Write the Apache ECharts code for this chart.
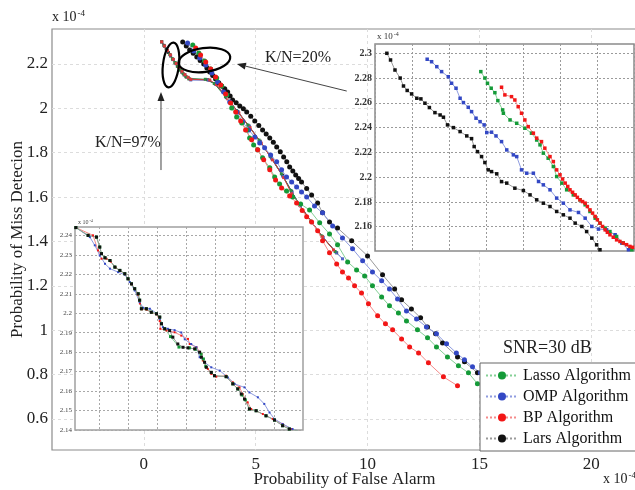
<!DOCTYPE html>
<html><head><meta charset="utf-8">
<script src="https://cdn.jsdelivr.net/npm/echarts@6/dist/echarts.min.js"></script>
<style>html,body{margin:0;padding:0;background:#fff}#c{width:635px;height:490px}</style>
</head><body><div id="c"></div>
<script>
// ---------------- DATA ----------------
const seriesNames = ['Lasso Algorithm', 'OMP Algorithm', 'BP Algorithm', 'Lars Algorithm'];
const mainXTicks = [0, 5, 10, 15, 20];
const mainYTicks = [0.6, 0.8, 1, 1.2, 1.4, 1.6, 1.8, 2, 2.2];
const inset1YTicks = [2.16, 2.18, 2.2, 2.22, 2.24, 2.26, 2.28, 2.3];
const inset2YTicks = [2.14, 2.15, 2.16, 2.17, 2.18, 2.19, 2.2, 2.21, 2.22, 2.23, 2.24];
const inset2XTicks = [1, 2, 3, 4, 5, 6, 7];

// main chart, K/N = 20%  (x in 1e-4, y in 1e-4)
const lasso20 = [[2.19,2.286],[2.46,2.250],[2.72,2.214],[2.99,2.177],[3.26,2.137],[3.48,2.101],[3.71,2.060],[3.93,2.002],[4.15,1.961],[4.38,1.934],[4.60,1.903],[4.73,1.867],[4.91,1.835],[5.09,1.813],[5.31,1.777],[5.63,1.732],[5.85,1.691],[6.07,1.659],[6.38,1.628],[6.65,1.601],[7.01,1.569],[7.41,1.542],[7.86,1.484],[8.30,1.434],[8.66,1.385],[9.11,1.308],[9.51,1.272],[9.87,1.245],[10.22,1.200],[10.63,1.150],[10.98,1.110],[11.38,1.078],[11.74,1.042],[12.23,1.002],[12.68,0.966],[13.08,0.925],[13.57,0.880],[14.06,0.840],[14.51,0.808],[14.91,0.759]];
const omp20 = [[1.96,2.295],[2.23,2.259],[2.50,2.227],[2.77,2.195],[3.04,2.159],[3.30,2.119],[3.57,2.074],[3.84,2.029],[4.15,1.984],[4.42,1.939],[4.69,1.903],[4.96,1.871],[5.18,1.844],[5.40,1.822],[5.67,1.790],[5.94,1.759],[6.16,1.723],[6.38,1.691],[6.61,1.668],[6.83,1.646],[7.05,1.623],[7.28,1.601],[7.63,1.560],[7.99,1.529],[8.44,1.470],[8.88,1.416],[9.33,1.367],[9.78,1.313],[10.22,1.263],[10.63,1.223],[10.98,1.186],[11.34,1.141],[11.74,1.087],[12.19,1.051],[12.63,1.015],[13.08,0.984],[13.53,0.939],[13.97,0.898],[14.33,0.867],[14.69,0.835],[15.04,0.808],[15.45,0.777],[15.89,0.745]];
const bp20 = [[2.32,2.272],[2.54,2.241],[2.77,2.209],[2.99,2.177],[3.21,2.141],[3.44,2.105],[3.66,2.065],[3.88,2.024],[4.11,1.984],[4.33,1.943],[4.55,1.903],[4.82,1.858],[5.09,1.813],[5.36,1.768],[5.63,1.723],[5.89,1.677],[6.16,1.641],[6.52,1.605],[6.83,1.574],[7.08,1.540],[7.28,1.511],[7.50,1.488],[7.77,1.448],[7.99,1.403],[8.30,1.349],[8.62,1.299],[8.88,1.263],[9.15,1.236],[9.42,1.200],[9.73,1.168],[10.04,1.119],[10.45,1.065],[10.80,1.029],[11.12,1.002],[11.52,0.961],[11.88,0.925],[12.28,0.898],[12.72,0.853],[13.39,0.790],[14.02,0.750]];
const lars20 = [[1.74,2.299],[1.90,2.281],[2.05,2.263],[2.21,2.248],[2.37,2.232],[2.52,2.216],[2.68,2.200],[2.82,2.182],[2.95,2.164],[3.08,2.148],[3.21,2.132],[3.35,2.116],[3.48,2.101],[3.62,2.088],[3.75,2.074],[3.86,2.056],[3.97,2.038],[4.13,2.025],[4.29,2.011],[4.45,1.998],[4.60,1.984],[4.78,1.964],[4.96,1.943],[5.14,1.923],[5.31,1.903],[5.47,1.885],[5.63,1.867],[5.79,1.847],[5.94,1.826],[6.10,1.804],[6.25,1.781],[6.39,1.759],[6.52,1.736],[6.66,1.718],[6.79,1.700],[6.92,1.684],[7.05,1.668],[7.28,1.639],[7.50,1.610],[7.77,1.574],[7.99,1.529],[8.30,1.488],[8.66,1.461],[9.29,1.403],[10.00,1.335],[10.67,1.250],[11.21,1.186],[11.52,1.137],[11.96,1.096],[12.37,1.056],[12.68,1.015],[13.04,0.984],[13.35,0.943],[14.02,0.880],[14.33,0.858],[14.91,0.808],[15.54,0.763],[16.12,0.723]];

// main chart, K/N = 97%
const lasso97 = [[0.80,2.300],[0.92,2.281],[1.04,2.262],[1.16,2.243],[1.28,2.224],[1.40,2.206],[1.52,2.189],[1.64,2.172],[1.76,2.157],[1.88,2.144],[2.02,2.134],[2.75,2.131],[3.15,2.112],[3.65,2.052],[4.15,1.990],[4.65,1.925],[5.15,1.857],[5.65,1.783],[6.15,1.705],[6.58,1.630],[6.94,1.568],[7.46,1.492],[7.95,1.425],[8.55,1.355]];
const omp97 = [[0.80,2.300],[0.93,2.280],[1.06,2.260],[1.19,2.240],[1.32,2.220],[1.45,2.201],[1.58,2.183],[1.71,2.166],[1.84,2.151],[1.98,2.139],[2.10,2.128],[2.90,2.127],[3.22,2.108],[3.72,2.047],[4.22,1.983],[4.72,1.918],[5.22,1.848],[5.72,1.773],[6.22,1.693],[6.63,1.622],[7.00,1.560],[7.52,1.485],[8.02,1.418],[8.60,1.350],[8.88,1.322]];
const bp97 = [[0.80,2.300],[0.93,2.281],[1.06,2.261],[1.19,2.241],[1.32,2.221],[1.45,2.202],[1.58,2.184],[1.71,2.167],[1.84,2.152],[1.98,2.140],[2.10,2.131],[2.95,2.128],[3.25,2.107],[3.75,2.043],[4.25,1.979],[4.75,1.913],[5.25,1.843],[5.75,1.768],[6.25,1.688],[6.61,1.615],[6.96,1.565],[7.50,1.488],[7.99,1.421],[8.48,1.362]];
const lars97 = [[0.80,2.300],[0.90,2.284],[1.00,2.268],[1.10,2.252],[1.20,2.236],[1.30,2.220],[1.40,2.205],[1.50,2.190],[1.60,2.176],[1.70,2.163],[1.80,2.151],[1.90,2.141],[2.02,2.133],[2.85,2.129],[3.20,2.110],[3.70,2.049],[4.20,1.986],[4.70,1.921],[5.20,1.852],[5.70,1.778],[6.20,1.699],[6.61,1.625],[6.96,1.565],[7.50,1.488],[7.99,1.421],[8.62,1.349]];

// inset top-right (zoom of K/N = 20%)
const lassoIn20 = [[2.86,2.2852],[2.97,2.280],[3.04,2.2758],[3.14,2.2718],[3.24,2.2682],[3.32,2.2618],[3.45,2.2543],[3.47,2.2516],[3.65,2.2462],[3.83,2.2435],[4.05,2.2395],[4.23,2.2355],[4.37,2.230],[4.46,2.2261],[4.55,2.2194],[4.68,2.2153],[4.82,2.2086],[4.91,2.2005],[5.05,2.1952],[5.18,2.1898],[5.36,2.1857],[5.54,2.1817],[5.68,2.1777],[5.81,2.1723],[5.95,2.1669],[6.08,2.1629],[6.22,2.1589],[6.35,2.1561],[6.53,2.1521],[6.71,2.1468],[6.94,2.1414]];
const ompIn20 = [[1.41,2.2952],[1.53,2.2932],[1.67,2.2892],[1.80,2.2852],[1.98,2.2811],[2.07,2.2758],[2.19,2.2718],[2.30,2.2637],[2.39,2.2602],[2.52,2.2564],[2.61,2.2529],[2.73,2.2476],[2.84,2.2448],[2.95,2.2422],[3.02,2.236],[3.15,2.2363],[3.27,2.2333],[3.42,2.2287],[3.56,2.222],[3.74,2.218],[3.83,2.2166],[3.96,2.2059],[4.10,2.2032],[4.28,2.2032],[4.42,2.1965],[4.55,2.1938],[4.73,2.1898],[4.91,2.1831],[5.09,2.179],[5.27,2.1736],[5.50,2.1715],[5.68,2.1669],[5.86,2.1602],[6.04,2.1581],[6.26,2.1575],[6.49,2.1535],[6.67,2.1468],[6.85,2.1414]];
const bpIn20 = [[3.42,2.2726],[3.51,2.2664],[3.69,2.265],[3.78,2.2623],[3.87,2.2569],[3.96,2.2516],[4.05,2.2462],[4.14,2.2408],[4.28,2.2355],[4.37,2.2315],[4.50,2.2287],[4.59,2.2234],[4.73,2.2166],[4.82,2.2126],[4.91,2.2059],[5.00,2.2019],[5.07,2.1985],[5.14,2.1952],[5.21,2.1925],[5.27,2.1898],[5.34,2.1878],[5.41,2.1857],[5.47,2.1837],[5.54,2.1817],[5.61,2.1803],[5.68,2.179],[5.74,2.1763],[5.81,2.1736],[5.88,2.171],[5.95,2.1683],[6.01,2.1656],[6.08,2.1629],[6.15,2.1602],[6.22,2.1575],[6.28,2.1555],[6.35,2.1535],[6.44,2.1515],[6.53,2.1494],[6.62,2.1481],[6.71,2.1468],[6.80,2.1455],[6.89,2.1441],[6.96,2.1434],[7.03,2.1428]];
const larsIn20 = [[0.32,2.300],[0.42,2.2946],[0.54,2.2865],[0.68,2.280],[0.77,2.2736],[0.87,2.270],[0.99,2.2672],[1.13,2.2637],[1.24,2.2632],[1.35,2.2597],[1.47,2.2562],[1.62,2.2521],[1.76,2.2502],[1.85,2.2484],[1.96,2.2422],[2.12,2.240],[2.30,2.2368],[2.48,2.2333],[2.61,2.2311],[2.68,2.2247],[2.77,2.2206],[2.88,2.2166],[2.97,2.2118],[3.06,2.2059],[3.15,2.2045],[3.29,2.2027],[3.42,2.1964],[3.56,2.1952],[3.78,2.1911],[4.01,2.1892],[4.19,2.1857],[4.37,2.1817],[4.55,2.1790],[4.73,2.1763],[4.91,2.1723],[5.09,2.1696],[5.27,2.1669],[5.41,2.1629],[5.59,2.1602],[5.72,2.1561],[5.86,2.1508],[5.99,2.1454],[6.08,2.1414]];

// inset bottom-left (zoom of K/N = 97%)
const lassoIn97 = [[0.20,2.244],[0.62,2.240],[0.91,2.2391],[1.02,2.234],[1.08,2.2306],[1.20,2.2285],[1.37,2.2271],[1.54,2.2237],[1.71,2.222],[1.88,2.2203],[1.99,2.2177],[2.11,2.2151],[2.22,2.2126],[2.34,2.210],[2.39,2.2067],[2.45,2.2023],[2.62,2.2023],[2.79,2.2005],[2.97,2.1997],[3.08,2.198],[3.14,2.1946],[3.25,2.192],[3.45,2.188],[3.74,2.1826],[4.10,2.1822],[4.30,2.1815],[4.50,2.179],[4.58,2.1765],[4.66,2.1727],[4.85,2.1696],[4.96,2.1679],[5.36,2.1674],[5.59,2.1637],[5.76,2.1611],[5.90,2.1580],[6.02,2.1555],[6.16,2.1508],[6.39,2.1499],[6.73,2.1473],[7.02,2.1451],[7.30,2.1422],[7.53,2.1405],[7.85,2.1396]];
const ompIn97 = [[0.20,2.244],[0.68,2.2391],[0.85,2.2349],[1.02,2.2297],[1.20,2.2254],[1.37,2.2229],[1.65,2.2211],[1.88,2.2198],[2.05,2.216],[2.22,2.2117],[2.39,2.2057],[2.51,2.2028],[2.74,2.2023],[2.97,2.200],[3.08,2.1971],[3.19,2.1928],[3.36,2.192],[3.59,2.1913],[3.82,2.1901],[3.94,2.1866],[4.16,2.1842],[4.34,2.1825],[4.45,2.1774],[4.62,2.1748],[4.85,2.1722],[5.14,2.1705],[5.42,2.167],[5.65,2.1637],[5.99,2.1619],[6.16,2.1593],[6.45,2.1568],[6.67,2.1534],[6.85,2.149],[7.02,2.1457],[7.30,2.1431],[7.64,2.1405],[7.85,2.1396]];
const bpIn97 = [[0.20,2.244],[0.79,2.240],[0.96,2.2323],[1.08,2.228],[1.25,2.228],[1.40,2.2265],[1.56,2.2235],[1.72,2.2218],[1.89,2.2200],[2.00,2.2175],[2.12,2.2148],[2.23,2.2122],[2.33,2.2095],[2.40,2.2050],[2.46,2.2020],[2.63,2.2018],[2.80,2.2002],[2.98,2.1994],[3.08,2.1960],[3.10,2.192],[3.31,2.1911],[3.59,2.1902],[3.82,2.1885],[4.05,2.1868],[4.11,2.1842],[4.34,2.1825],[4.51,2.1791],[4.56,2.1757],[4.73,2.1714],[4.85,2.1688],[5.02,2.1674],[5.36,2.1679],[5.59,2.1645],[5.82,2.1619],[5.93,2.1585],[6.10,2.1542],[6.22,2.1508],[6.62,2.1482],[6.96,2.1457],[7.30,2.1431],[7.59,2.1405],[7.87,2.1396]];
const larsIn97 = [[0.20,2.244],[0.62,2.240],[0.91,2.2391],[1.02,2.234],[1.08,2.2306],[1.20,2.2285],[1.37,2.2271],[1.54,2.2237],[1.71,2.222],[1.88,2.2203],[1.99,2.2177],[2.11,2.2151],[2.22,2.2126],[2.34,2.210],[2.39,2.2067],[2.45,2.2023],[2.62,2.2023],[2.79,2.2005],[2.97,2.1997],[3.08,2.198],[3.14,2.1946],[3.25,2.192],[3.42,2.1911],[3.53,2.1877],[3.70,2.1842],[3.88,2.1825],[4.05,2.1822],[4.28,2.1817],[4.45,2.18],[4.51,2.1774],[4.62,2.1748],[4.68,2.1722],[4.85,2.1696],[4.96,2.1679],[5.36,2.1674],[5.59,2.1637],[5.76,2.1611],[5.88,2.1585],[5.99,2.1559],[6.16,2.1508],[6.39,2.1499],[6.73,2.1473],[7.02,2.1451],[7.30,2.1422],[7.53,2.1405],[7.82,2.1396]];

// annotation anchors (data coordinates of main chart)
const ellipse97Center = [1.215, 2.1955];
const ellipse20Center = [2.71, 2.218];
const arrow97 = [[0.77, 1.722], [0.77, 2.074]];
const arrow20 = [[9.07, 2.078], [4.16, 2.200]];
const label97 = [-0.71, 1.844];
const label20 = [5.42, 2.227];

// ---------------- STYLE ----------------
const FONT = '"Liberation Serif", "Times New Roman", serif';
const dotColors = ['#149a38', '#3348c4', '#f21616', '#111111'];
const lineColors = ['#84d096', '#8f9ce0', '#f58a8a', '#9a9a9a'];
const line97Colors = ['#2f8a45', '#5566c8', '#d83a3a', '#333333'];

const main20 = [lasso20, omp20, bp20, lars20];
const main97 = [lasso97, omp97, bp97, lars97];
const in20 = [lassoIn20, ompIn20, bpIn20, larsIn20];
const in97 = [lassoIn97, ompIn97, bpIn97, larsIn97];

const series = [];
[3, 1, 0, 2].forEach(i => {
  series.push({
    name: seriesNames[i] + ' (K/N=97%)', type: 'line', xAxisIndex: 0, yAxisIndex: 0,
    data: main97[i], symbol: 'rect', symbolSize: 3, z: 2,
    lineStyle: { color: line97Colors[i], width: 1 }, itemStyle: { color: line97Colors[i] },
    emphasis: { disabled: true }
  });
});
[3, 1, 0, 2].forEach(i => {
  series.push({
    name: seriesNames[i], type: 'line', xAxisIndex: 0, yAxisIndex: 0,
    data: main20[i], symbol: 'circle', symbolSize: 5, z: 3,
    lineStyle: { color: lineColors[i], width: 1 }, itemStyle: { color: dotColors[i] },
    emphasis: { disabled: true }
  });
});
[3, 1, 0, 2].forEach(i => {
  series.push({
    name: seriesNames[i] + ' inset20', type: 'line', xAxisIndex: 1, yAxisIndex: 1,
    data: in20[i], symbol: 'rect', symbolSize: 3.5, z: 8,
    lineStyle: { color: lineColors[i], width: 1 }, itemStyle: { color: dotColors[i] },
    emphasis: { disabled: true }
  });
});
[2, 1, 0, 3].forEach(i => {
  series.push({
    name: seriesNames[i] + ' inset97', type: 'line', xAxisIndex: 2, yAxisIndex: 2,
    data: in97[i], symbol: 'rect', symbolSize: (i === 0 || i === 3) ? 3 : 2, z: 8,
    lineStyle: { color: lineColors[i], width: 1 }, itemStyle: { color: dotColors[i] },
    emphasis: { disabled: true }
  });
});

function sup(left, top, size, color) {
  return {
    text: 'x 10{s|-4}', left: left, top: top, padding: 0,
    textStyle: {
      fontFamily: FONT, fontSize: size, fontWeight: 'normal', color: color, verticalAlign: 'bottom',
      rich: { s: { fontFamily: FONT, fontSize: Math.round(size * 0.65), color: color, verticalAlign: 'bottom', padding: [0, 0, Math.round(size * 0.55), 1] } }
    }
  };
}

const option = {
  animation: false,
  backgroundColor: '#fff',
  title: [
    sup(52, 9, 14, '#222'),
    sup(603, 471, 14, '#222'),
    sup(377, 31, 9, '#333'),
    sup(78, 219, 6, '#444'),
    { text: 'SNR=30 dB', left: 503, top: 339, padding: 0, textStyle: { fontFamily: FONT, fontSize: 18, fontWeight: 'normal', color: '#222' } }
  ],
  legend: {
    data: seriesNames, orient: 'vertical', left: 480, top: 363,
    padding: [4, 40, 4, 5], itemGap: 4, itemWidth: 32, itemHeight: 10,
    backgroundColor: '#fff', borderColor: '#666', borderWidth: 1,
    textStyle: { fontFamily: FONT, fontSize: 16, color: '#111', lineHeight: 17 },
    lineStyle: { type: 'dotted', width: 2 }, z: 6
  },
  grid: [
    { left: 52, top: 29, right: -2, bottom: 40, outerBoundsMode: 'none', containLabel: false, show: true, borderColor: '#8c8c8c', borderWidth: 1.2, backgroundColor: 'transparent', z: 0 },
    { left: 375, top: 44, width: 259, height: 207, outerBoundsMode: 'none', containLabel: false, show: true, borderColor: '#8a8a8a', borderWidth: 1.5, backgroundColor: '#fff', z: 5 },
    { left: 75, top: 227, width: 228, height: 203, outerBoundsMode: 'none', containLabel: false, show: true, borderColor: '#a0a0a0', borderWidth: 1.5, backgroundColor: '#fff', z: 5 }
  ],
  xAxis: [
    {
      gridIndex: 0, type: 'value', min: -4.1, max: 22.04,
      name: 'Probability of False Alarm', nameLocation: 'middle', nameGap: 21, nameMoveOverlap: false,
      nameTextStyle: { fontFamily: FONT, fontSize: 17, color: '#222' },
      axisLine: { show: false }, axisTick: { show: false, customValues: mainXTicks },
      axisLabel: { customValues: mainXTicks, fontFamily: FONT, fontSize: 17, color: '#222', margin: 6 },
      splitLine: { show: true, lineStyle: { color: '#dcdcdc', type: [3, 3], width: 1 } }
    },
    {
      gridIndex: 1, type: 'value', min: 0, max: 7, interval: 1, z: 6,
      axisLine: { show: false }, axisTick: { show: false }, axisLabel: { show: false },
      splitLine: { show: true, lineStyle: { color: '#9a9a9a', type: [2, 2], width: 1 } }
    },
    {
      gridIndex: 2, type: 'value', min: 0.17, max: 8, z: 6,
      axisLine: { show: false }, axisTick: { show: false, customValues: inset2XTicks },
      axisLabel: { show: false, customValues: inset2XTicks },
      splitLine: { show: true, lineStyle: { color: '#a8a8a8', type: [2, 2], width: 1 } }
    }
  ],
  yAxis: [
    {
      gridIndex: 0, type: 'value', min: 0.4603, max: 2.3577,
      name: 'Probability of Miss Detecion', nameLocation: 'middle', nameGap: 26, nameMoveOverlap: false,
      nameTextStyle: { fontFamily: FONT, fontSize: 17, color: '#222' },
      axisLine: { show: false }, axisTick: { show: false, customValues: mainYTicks },
      axisLabel: { customValues: mainYTicks, fontFamily: FONT, fontSize: 17, color: '#222', margin: 4 },
      splitLine: { show: true, lineStyle: { color: '#dcdcdc', type: [3, 3], width: 1 } }
    },
    {
      gridIndex: 1, type: 'value', min: 2.1404, max: 2.3075, z: 6,
      axisLine: { show: false }, axisTick: { show: false, customValues: inset1YTicks },
      axisLabel: { customValues: inset1YTicks, fontFamily: FONT, fontSize: 10, fontWeight: 'bold', color: '#333', margin: 3 },
      splitLine: { show: true, lineStyle: { color: '#9a9a9a', type: [2, 2], width: 1 } }
    },
    {
      gridIndex: 2, type: 'value', min: 2.14, max: 2.2443, z: 6,
      axisLine: { show: false }, axisTick: { show: false, customValues: inset2YTicks },
      axisLabel: { customValues: inset2YTicks, fontFamily: FONT, fontSize: 7, color: '#444', margin: 3 },
      splitLine: { show: true, lineStyle: { color: '#a8a8a8', type: [2, 2], width: 1 } }
    }
  ],
  series: series
};

const chart = echarts.init(document.getElementById('c'), null, { renderer: 'canvas' });
chart.setOption(option);

// annotations placed through the main grid's coordinate system
function px(p) { return chart.convertToPixel({ gridIndex: 0 }, p); }
function arrow(a, b) {
  const p0 = px(a), p1 = px(b);
  const dx = p1[0] - p0[0], dy = p1[1] - p0[1];
  const L = Math.sqrt(dx * dx + dy * dy), ux = dx / L, uy = dy / L;
  const hl = 9, hw = 3.5;
  const bx = p1[0] - ux * hl, by = p1[1] - uy * hl;
  return [
    { type: 'line', z: 10, shape: { x1: p0[0], y1: p0[1], x2: bx, y2: by }, style: { stroke: '#444', lineWidth: 1 } },
    { type: 'polygon', z: 10, shape: { points: [[p1[0], p1[1]], [bx - uy * hw, by + ux * hw], [bx + uy * hw, by - ux * hw]] }, style: { fill: '#222' } }
  ];
}
const e97 = px(ellipse97Center), e20 = px(ellipse20Center);
const l97 = px(label97), l20 = px(label20);
const graphics = [
  { type: 'ellipse', z: 10, x: e97[0], y: e97[1], rotation: -0.12, shape: { cx: 0, cy: 0, rx: 8, ry: 22.5 }, style: { fill: 'none', stroke: '#000', lineWidth: 2.2 } },
  { type: 'ellipse', z: 10, x: e20[0], y: e20[1], rotation: 0.13, shape: { cx: 0, cy: 0, rx: 26, ry: 12 }, style: { fill: 'none', stroke: '#000', lineWidth: 2.2 } },
  { type: 'text', z: 10, x: l97[0], y: l97[1], style: { text: 'K/N=97%', font: '16px ' + FONT, fill: '#222', align: 'center', verticalAlign: 'middle' } },
  { type: 'text', z: 10, x: l20[0], y: l20[1], style: { text: 'K/N=20%', font: '16px ' + FONT, fill: '#222', align: 'left', verticalAlign: 'middle' } }
].concat(arrow(arrow97[0], arrow97[1])).concat(arrow(arrow20[0], arrow20[1]));
chart.setOption({ graphic: graphics });
</script></body></html>
